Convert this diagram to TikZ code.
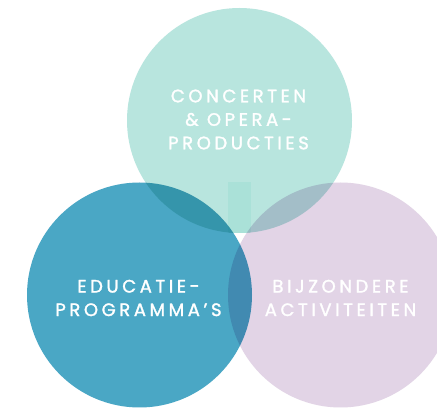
\documentclass[tikz,border=0pt]{standalone}
\usepackage{fontspec}
\newfontfamily\lbl[LetterSpace=20,FakeBold=1.6]{Poppins}
\usetikzlibrary{positioning}
\definecolor{mintteal}{RGB}{184,229,222}
\definecolor{mintdark}{RGB}{170,225,216}
\definecolor{oceanblue}{RGB}{74,167,197}
\definecolor{softlilac}{RGB}{226,212,230}

\begin{document}
\begin{tikzpicture}[
        x=1pt, y=1pt,
        disc/.style={circle, minimum size=225pt, inner sep=0pt},
        tag/.style={text=white, align=center, font=\lbl\fontsize{18}{23.5}\selectfont}
    ]
        \fill[white] (0,0) rectangle (437,410);
        \useasboundingbox (0,0) rectangle (437,410);
        \node[disc, fill=mintteal] (concerts) at (239.5,289.5) {};
        \begin{scope}
            \clip (concerts.center) circle (112.5);
            \fill[mintdark] (228,228) rectangle (251,170);
        \end{scope}
        \begin{scope}[blend mode=multiply]
            \node[disc, fill=oceanblue] (education) at (139.5,115) {};
            \node[disc, fill=softlilac] (special) at (340.5,115) {};
        \end{scope}
        \node[tag] (concertslbl) at ([xshift=-1pt,yshift=1pt]concerts.center) {CONCERTEN\\\& OPERA-\\PRODUCTIES};
        \node[tag] (educationlbl) at ([xshift=-1pt,yshift=-3pt]education.center) {EDUCATIE-\\PROGRAMMA’S};
        \node[tag] (speciallbl) at ([xshift=0pt,yshift=-3pt]special.center) {BIJZONDERE\\ACTIVITEITEN};
    \end{tikzpicture}
\end{document}
